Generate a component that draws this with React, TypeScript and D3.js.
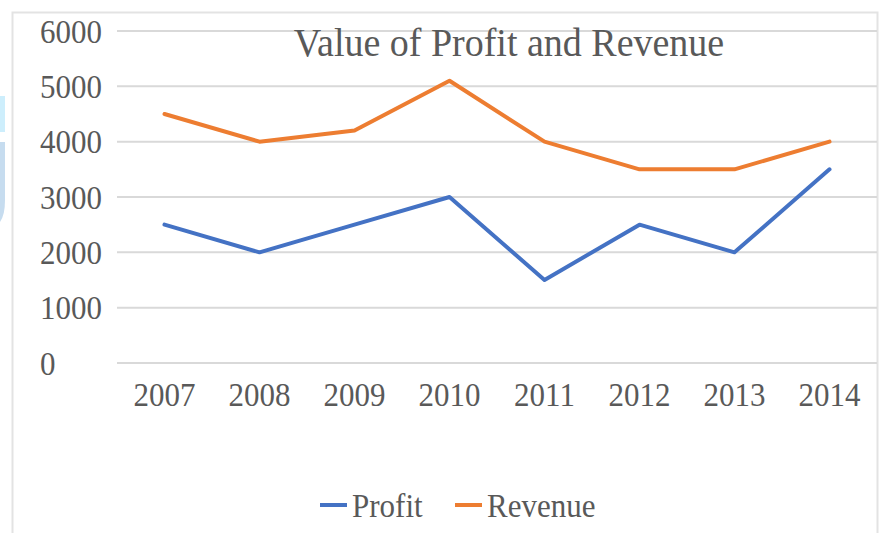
import React from 'react';
import * as d3 from 'd3';

const years = ['2007', '2008', '2009', '2010', '2011', '2012', '2013', '2014'];
const profit = [2500, 2000, 2500, 3000, 1500, 2500, 2000, 3500];
const revenue = [4500, 4000, 4200, 5100, 4000, 3500, 3500, 4000];
const yTicks = [0, 1000, 2000, 3000, 4000, 5000, 6000];

const W = 881, H = 533;
const textColor = '#595959';
const font = '"Liberation Serif", "Times New Roman", serif';
const stretch = 1.12; // the picture's text is a little taller than wide

function Label({x, y, children, anchor = 'middle', size = 31}) {
    return (
        <text transform={`translate(${x}, ${y}) scale(1, ${stretch})`} textAnchor={anchor}
            fontFamily={font} fontSize={size} fill={textColor}>{children}</text>
    );
}

export default function App() {
    const x = d3.scaleBand().domain(years).range([117, 877]);
    const y = d3.scaleLinear().domain([0, 6000]).range([363, 31]);
    const cx = (d) => x(d) + x.bandwidth() / 2;

    const line = d3.line().x((d) => cx(d.year)).y((d) => y(d.value));
    const profitPts = years.map((yr, i) => ({year: yr, value: profit[i]}));
    const revenuePts = years.map((yr, i) => ({year: yr, value: revenue[i]}));

    const series = [
        {name: 'Profit', color: '#4472C4', pts: profitPts, lx: 320},
        {name: 'Revenue', color: '#ED7D31', pts: revenuePts, lx: 455},
    ];

    return (
        <svg width={W} height={H} style={{position: 'absolute', left: 0, top: 0, background: '#fff'}}>
            {/* bits of the page behind the chart */}
            <rect x={0} y={96} width={5} height={36} fill="#cdeefc" />
            <path d="M0,142 H5 V200 Q5,215 0,222 Z" fill="#c6dcef" />

            <rect x={12.5} y={12.5} width={865} height={H + 10} fill="none" stroke="#e3e3e3" strokeWidth={2} />

            {yTicks.map((t) => (
                <g key={`g_${t}`}>
                    <line x1={117} x2={877} y1={y(t)} y2={y(t)} stroke="#d9d9d9" strokeWidth={2} />
                    <Label x={40} y={y(t) + 11.5} anchor="start">{t}</Label>
                </g>
            ))}

            {years.map((yr) => (
                <Label key={`x_${yr}`} x={cx(yr)} y={406}>{yr}</Label>
            ))}

            <text transform={`translate(509, 56) scale(1, 1.04)`} textAnchor="middle" fontFamily={font}
                fontSize={38} fill={textColor}>
                Value of Profit and Revenue
            </text>

            {series.map((s) => (
                <path key={s.name} d={line(s.pts)} fill="none" stroke={s.color} strokeWidth={4}
                    strokeLinejoin="round" strokeLinecap="round" />
            ))}

            {series.map((s) => (
                <g key={`leg_${s.name}`}>
                    <line x1={s.lx} x2={s.lx + 27} y1={505} y2={505} stroke={s.color} strokeWidth={4} />
                    <Label x={s.lx + 32} y={517} anchor="start">{s.name}</Label>
                </g>
            ))}
        </svg>
    );
}
